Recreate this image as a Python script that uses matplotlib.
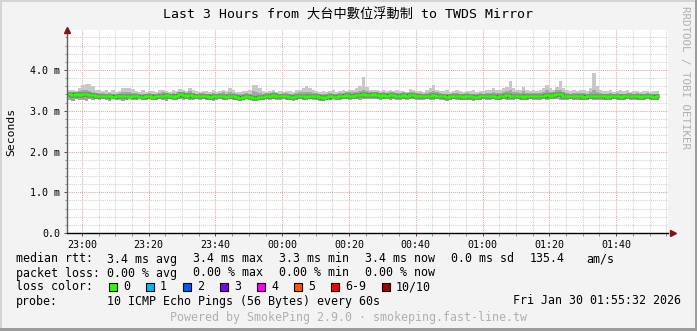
import numpy as np
import matplotlib
matplotlib.use('Agg')
import matplotlib.pyplot as plt
from matplotlib.patches import Rectangle
from matplotlib.ticker import FixedLocator

W, H = 697, 331

# time axis: minutes since 22:55:32, 3 hours shown
t0 = 22*60 + 55 + 32/60.0
tick_labels = ["23:00", "23:20", "23:40", "00:00", "00:20", "00:40", "01:00", "01:20", "01:40"]
tick_clock = [23*60, 23*60+20, 23*60+40, 24*60, 24*60+20, 24*60+40, 25*60, 25*60+20, 25*60+40]
y_ticks = [0, 1, 2, 3, 4]
y_labels = ["0.0", "1.0 m", "2.0 m", "3.0 m", "4.0 m"]

# median rtt (ms), one value per minute
med = [3.40, 3.39, 3.41, 3.38, 3.40, 3.42, 3.39, 3.38, 3.37, 3.36, 3.37, 3.35, 3.36, 3.34, 3.36, 3.35, 3.37, 3.36, 3.34, 3.35,
       3.36, 3.34, 3.33, 3.35, 3.36, 3.34, 3.35, 3.37, 3.36, 3.38, 3.35, 3.34, 3.36, 3.40, 3.38, 3.37, 3.39, 3.36, 3.35, 3.37,
       3.36, 3.35, 3.34, 3.36, 3.35, 3.37, 3.36, 3.34, 3.35, 3.36, 3.33, 3.32, 3.34, 3.35, 3.33, 3.32, 3.31, 3.33, 3.34, 3.36,
       3.37, 3.38, 3.36, 3.35, 3.37, 3.36, 3.34, 3.33, 3.35, 3.36, 3.35, 3.34, 3.37, 3.36, 3.35, 3.34, 3.32, 3.33, 3.35, 3.34,
       3.33, 3.36, 3.37, 3.38, 3.36, 3.37, 3.39, 3.38, 3.40, 3.39, 3.38, 3.40, 3.39, 3.37, 3.38, 3.37, 3.39, 3.38, 3.37, 3.36,
       3.38, 3.37, 3.39, 3.38, 3.36, 3.37, 3.35, 3.36, 3.37, 3.38, 3.36, 3.35, 3.36, 3.34, 3.35, 3.37, 3.36, 3.35, 3.34, 3.36,
       3.35, 3.33, 3.34, 3.36, 3.35, 3.36, 3.37, 3.36, 3.34, 3.35, 3.37, 3.38, 3.36, 3.35, 3.37, 3.36, 3.34, 3.35, 3.36, 3.37,
       3.36, 3.35, 3.37, 3.38, 3.36, 3.39, 3.41, 3.40, 3.37, 3.36, 3.35, 3.36, 3.37, 3.36, 3.34, 3.35, 3.36, 3.37, 3.35, 3.36,
       3.35, 3.34, 3.36, 3.35, 3.36, 3.34, 3.35, 3.36, 3.37, 3.35, 3.36, 3.34, 3.35, 3.36, 3.35, 3.34, 3.35]

# smoke: max ping
hi = [3.50, 3.52, 3.48, 3.55, 3.62, 3.65, 3.66, 3.60, 3.52, 3.50, 3.48, 3.51, 3.47, 3.50, 3.46, 3.49, 3.55, 3.56, 3.56, 3.54,
      3.48, 3.47, 3.50, 3.46, 3.49, 3.48, 3.46, 3.50, 3.52, 3.49, 3.47, 3.50, 3.48, 3.53, 3.50, 3.49, 3.56, 3.52, 3.48, 3.47,
      3.49, 3.48, 3.46, 3.50, 3.47, 3.49, 3.51, 3.48, 3.56, 3.50, 3.47, 3.46, 3.49, 3.48, 3.50, 3.62, 3.63, 3.55, 3.48, 3.47,
      3.49, 3.50, 3.47, 3.48, 3.46, 3.49, 3.48, 3.47, 3.50, 3.52, 3.55, 3.61, 3.56, 3.52, 3.49, 3.47, 3.48, 3.46, 3.49, 3.50,
      3.47, 3.48, 3.50, 3.49, 3.52, 3.51, 3.55, 3.60, 3.83, 3.58, 3.51, 3.50, 3.52, 3.49, 3.50, 3.48, 3.51, 3.49, 3.50, 3.48,
      3.49, 3.47, 3.53, 3.50, 3.48, 3.49, 3.47, 3.50, 3.55, 3.63, 3.52, 3.49, 3.48, 3.50, 3.47, 3.49, 3.50, 3.48, 3.47, 3.49,
      3.48, 3.50, 3.47, 3.49, 3.48, 3.51, 3.50, 3.55, 3.52, 3.50, 3.56, 3.58, 3.73, 3.55, 3.52, 3.50, 3.58, 3.52, 3.49, 3.50,
      3.48, 3.51, 3.55, 3.63, 3.56, 3.52, 3.58, 3.73, 3.56, 3.50, 3.49, 3.51, 3.48, 3.50, 3.52, 3.49, 3.56, 3.93, 3.60, 3.50,
      3.49, 3.48, 3.50, 3.47, 3.49, 3.51, 3.48, 3.50, 3.47, 3.49, 3.48, 3.47, 3.49, 3.48, 3.47, 3.49, 3.48]

# smoke: upper edge of the darker band
mid = [3.46, 3.47, 3.45, 3.48, 3.50, 3.52, 3.49, 3.46, 3.44, 3.43, 3.44, 3.42, 3.43, 3.41, 3.42, 3.43, 3.46, 3.47, 3.45, 3.44,
       3.43, 3.41, 3.42, 3.42, 3.44, 3.42, 3.41, 3.44, 3.45, 3.44, 3.42, 3.43, 3.42, 3.47, 3.45, 3.44, 3.48, 3.44, 3.42, 3.43,
       3.43, 3.42, 3.41, 3.44, 3.42, 3.44, 3.45, 3.42, 3.47, 3.44, 3.41, 3.40, 3.42, 3.43, 3.42, 3.48, 3.46, 3.44, 3.42, 3.43,
       3.44, 3.45, 3.43, 3.42, 3.44, 3.43, 3.42, 3.41, 3.43, 3.45, 3.46, 3.47, 3.46, 3.44, 3.43, 3.42, 3.41, 3.40, 3.43, 3.42,
       3.41, 3.43, 3.44, 3.45, 3.46, 3.45, 3.47, 3.49, 3.52, 3.48, 3.45, 3.46, 3.47, 3.44, 3.45, 3.44, 3.46, 3.45, 3.44, 3.43,
       3.45, 3.43, 3.46, 3.45, 3.43, 3.44, 3.42, 3.44, 3.46, 3.49, 3.45, 3.43, 3.42, 3.42, 3.42, 3.44, 3.43, 3.42, 3.41, 3.43,
       3.42, 3.41, 3.41, 3.43, 3.42, 3.44, 3.44, 3.47, 3.44, 3.43, 3.47, 3.48, 3.52, 3.46, 3.45, 3.44, 3.48, 3.44, 3.43, 3.44,
       3.43, 3.43, 3.46, 3.50, 3.46, 3.47, 3.52, 3.51, 3.46, 3.43, 3.42, 3.43, 3.43, 3.43, 3.44, 3.42, 3.45, 3.52, 3.46, 3.43,
       3.42, 3.41, 3.43, 3.42, 3.43, 3.42, 3.42, 3.43, 3.43, 3.42, 3.43, 3.41, 3.42, 3.43, 3.42, 3.41, 3.42]

# smoke: min ping
lo = [3.27, 3.25, 3.28, 3.26, 3.27, 3.24, 3.28, 3.27, 3.29, 3.26, 3.28, 3.27, 3.25, 3.28, 3.26, 3.27, 3.23, 3.27, 3.28, 3.26,
      3.27, 3.28, 3.26, 3.27, 3.29, 3.27, 3.26, 3.28, 3.27, 3.25, 3.28, 3.27, 3.26, 3.28, 3.27, 3.29, 3.26, 3.27, 3.28, 3.26,
      3.28, 3.27, 3.26, 3.25, 3.27, 3.28, 3.26, 3.27, 3.28, 3.26, 3.27, 3.25, 3.27, 3.28, 3.26, 3.25, 3.24, 3.26, 3.27, 3.28,
      3.27, 3.28, 3.26, 3.27, 3.28, 3.27, 3.26, 3.25, 3.27, 3.28, 3.26, 3.27, 3.28, 3.26, 3.27, 3.25, 3.24, 3.26, 3.27, 3.28,
      3.27, 3.26, 3.28, 3.29, 3.27, 3.28, 3.29, 3.27, 3.28, 3.29, 3.28, 3.29, 3.28, 3.27, 3.29, 3.28, 3.27, 3.28, 3.27, 3.26,
      3.28, 3.27, 3.28, 3.29, 3.27, 3.26, 3.27, 3.28, 3.27, 3.26, 3.28, 3.27, 3.26, 3.25, 3.27, 3.28, 3.26, 3.27, 3.26, 3.27,
      3.26, 3.25, 3.26, 3.27, 3.28, 3.27, 3.26, 3.28, 3.26, 3.27, 3.28, 3.27, 3.26, 3.27, 3.28, 3.27, 3.26, 3.27, 3.28, 3.27,
      3.27, 3.26, 3.28, 3.27, 3.28, 3.29, 3.28, 3.27, 3.26, 3.27, 3.28, 3.27, 3.26, 3.27, 3.26, 3.27, 3.28, 3.27, 3.26, 3.27,
      3.27, 3.26, 3.27, 3.28, 3.27, 3.26, 3.27, 3.28, 3.27, 3.26, 3.27, 3.26, 3.27, 3.28, 3.27, 3.26, 3.27]

loss_labels = ["0", "1", "2", "3", "4", "5", "6-9", "10/10"]
loss_colors = ["#26ff00", "#00b8ff", "#0059ff", "#7e00ff", "#ff00ff", "#ff5500", "#ff0000", "#a10000"]

MONO = ['DejaVu Sans Mono', 'Noto Sans CJK TC']
plt.rcParams['font.family'] = MONO


def px(x, y):
    return x / W, 1 - y / H


fig = plt.figure(figsize=(W/100, H/100), dpi=100)
fig.patch.set_facecolor('#f3f3f3')

# frame round the image
fig.add_artist(Rectangle((0, 0), 2/W, 1, transform=fig.transFigure, color='#d4d4d4', lw=0))
fig.add_artist(Rectangle((0, 1 - 2/H), 1, 2/H, transform=fig.transFigure, color='#d4d4d4', lw=0))
fig.add_artist(Rectangle((1 - 2/W, 0), 2/W, 1, transform=fig.transFigure, color='#9c9c9c', lw=0))
fig.add_artist(Rectangle((0, 0), 1, 3/H, transform=fig.transFigure, color='#9c9c9c', lw=0))

ax = fig.add_axes([67/W, 1 - 233/H, 601/W, 203/H])
ax.set_facecolor('white')

edges = np.arange(len(med) + 1) + 0.3
ax.stairs(hi, edges, baseline=lo, fill=True, color='#c8c8c8', lw=0, zorder=2)
ax.stairs(mid, edges, baseline=lo, fill=True, color='#a4a4a4', lw=0, zorder=3)
ax.stairs(med, edges, baseline=None, color='#3a3a3a', lw=2.5, zorder=4)
ax.stairs(med, edges, baseline=None, color='#26ff00', lw=2.0, zorder=5)

ax.set_xlim(0, 180)
ax.set_ylim(0, 203/40.75)

xt = [c - t0 for c in tick_clock]
ax.xaxis.set_major_locator(FixedLocator(xt))
ax.xaxis.set_minor_locator(FixedLocator(np.arange(xt[0] - 5, 180, 5)))
ax.set_xticklabels(tick_labels)
ax.yaxis.set_major_locator(FixedLocator(y_ticks))
ax.yaxis.set_minor_locator(FixedLocator(np.arange(0.2, 5.0, 0.2)))
ax.set_yticklabels(y_labels)

ax.grid(True, which='minor', color='#d2d2d2', lw=0.75, ls=(0, (1, 1)), zorder=1)
ax.grid(True, which='major', color='#e8a4a4', lw=0.75, ls=(0, (1, 1)), zorder=1)
ax.set_axisbelow(True)

ax.tick_params(which='major', length=2.5, width=0.7, color='#505050', labelsize=7.2, pad=2.5)
ax.tick_params(which='minor', length=1.8, width=0.7, color='#909090')
for s in ['top', 'right']:
    ax.spines[s].set_visible(False)
ax.spines['left'].set_color('#606060')
ax.spines['left'].set_linewidth(1.0)
ax.spines['bottom'].set_color('black')
ax.spines['bottom'].set_linewidth(1.0)

# axis arrows
ax.plot([0], [1.0], marker='^', ms=5, color='#8b1010', transform=ax.transAxes, clip_on=False, zorder=6)
ax.plot([1.0 + 5/601], [0], marker='>', ms=5, color='#8b1010', transform=ax.transAxes, clip_on=False, zorder=6)

fig.text(*px(348, 15), "Last 3 Hours from 大台中數位浮動制 to TWDS Mirror", fontsize=9.5,
         ha='center', va='center', family=MONO)
fig.text(*px(11, 132), "Seconds", rotation=90, fontsize=8.2, ha='center', va='center')
fig.text(*px(685, 6), "RRDTOOL / TOBI OETIKER", rotation=270, fontsize=7.8, ha='center', va='top',
         color='#b0b0b0')

fs = 8.37
rows = {
    259: [(16, "median rtt:"), (107, "3.4 ms avg"), (193, "3.4 ms max"), (279, "3.3 ms min"),
          (365, "3.4 ms now"), (451, "0.0 ms sd"), (530, "135.4"), (586, "am/s")],
    273: [(16, "packet loss:"), (107, "0.00 % avg"), (193, "0.00 % max"), (279, "0.00 % min"),
          (365, "0.00 % now")],
    287: [(16, "loss color:")],
    301: [(16, "probe:"), (107, "10 ICMP Echo Pings (56 Bytes) every 60s")],
}
for y, items in rows.items():
    for x, s in items:
        fig.text(*px(x, y), s, fontsize=fs, ha='left', va='center')
fig.text(*px(681, 301), "Fri Jan 30 01:55:32 2026", fontsize=fs, ha='right', va='center')

box_x = [109, 146, 183, 220, 257, 294, 331, 382]
for bx, lab, col in zip(box_x, loss_labels, loss_colors):
    fig.add_artist(Rectangle(px(bx, 291), 8/W, 8/H, transform=fig.transFigure,
                             facecolor=col, edgecolor='black', lw=0.8))
    fig.text(*px(bx + 14, 287), lab, fontsize=fs, ha='left', va='center')

fig.text(*px(348.5, 318), "Powered by SmokePing 2.9.0 · smokeping.fast-line.tw", fontsize=fs,
         ha='center', va='center', color='#b0b0b0')

fig.savefig('out.png', dpi=100, facecolor=fig.get_facecolor())
